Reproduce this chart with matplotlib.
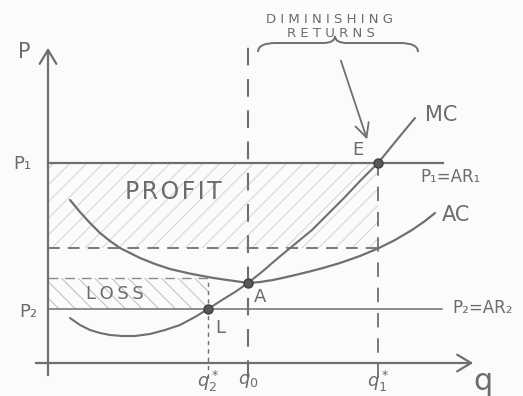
import numpy as np
import matplotlib.pyplot as plt
from matplotlib.path import Path
from matplotlib.patches import PathPatch


# -----------------------------
# DATA
# -----------------------------

# key quantities / prices
q2_star = 8.0
q0 = 10.0
q1_star = 16.5
P1 = 10.0
P2 = 2.7
AC_at_q1 = 5.75
AC_at_q2 = 4.25
A_point = (10.0, 4.0)

# marginal cost curve
mc_q = [1.1, 1.6, 2.1, 2.6, 3.1, 3.7, 4.35, 5.1, 5.85, 6.6, 7.35, 8.0, 8.75, 9.4, 10.0,
        10.75, 11.5, 12.35, 13.2, 14.0, 14.85, 15.6, 16.5, 16.95, 17.4, 17.85, 18.35]
mc_p = [2.25, 1.9, 1.65, 1.5, 1.4, 1.35, 1.35, 1.45, 1.65, 1.9, 2.3, 2.7, 3.18, 3.58, 4.0,
        4.6, 5.25, 5.95, 6.65, 7.45, 8.3, 9.1, 10.0, 10.55, 11.1, 11.65, 12.25]

# average cost curve
ac_q = [1.1, 1.6, 2.1, 2.6, 3.1, 3.6, 4.1, 4.6, 5.35, 6.1, 7.1, 8.1, 8.75, 9.4, 10.0,
        10.6, 11.25, 11.85, 12.45, 13.1, 13.75, 14.6, 15.6, 16.55, 17.35, 18.2, 18.85, 19.35]
ac_p = [8.15, 7.55, 7.0, 6.5, 6.1, 5.75, 5.5, 5.25, 4.95, 4.7, 4.47, 4.28, 4.18, 4.09, 4.0,
        4.05, 4.15, 4.28, 4.42, 4.58, 4.75, 5.0, 5.35, 5.75, 6.15, 6.65, 7.1, 7.5]

q_tick_labels = [r"$q_2^*$", r"$q_0$", r"$q_1^*$"]


# -----------------------------
# STYLE
# -----------------------------

PENCIL = "#6f6f6f"
TEXT = "#6c6c6c"
plt.rcParams['font.family'] = ['DejaVu Sans']
plt.rcParams['mathtext.fontset'] = 'dejavusans'
plt.rcParams['hatch.linewidth'] = 0.7

fig = plt.figure(figsize=(5.23, 3.96), dpi=100)
fig.patch.set_facecolor("#fbfbfa")
ax = fig.add_axes([0, 0, 1, 1])
ax.set_xlim(-2.4, 23.75)
ax.set_ylim(-1.65, 18.15)
ax.axis("off")


def spaced(word):
    # hand lettering is wide apart
    return " ".join(word)


# -----------------------------
# SHADED AREAS
# -----------------------------

ax.fill_between([0, q1_star], AC_at_q1, P1, facecolor="none",
                edgecolor="#d2d2d2", hatch="//", linewidth=0)
ax.fill_between([0, q2_star], P2, AC_at_q2, facecolor="none",
                edgecolor="#bcbcbc", hatch="\\\\", linewidth=0)


# -----------------------------
# AXES (hand drawn)
# -----------------------------

ax.annotate("", xy=(0, 15.9), xytext=(0, -0.75),
            arrowprops=dict(arrowstyle="->, head_length=0.5, head_width=0.3",
                            color=PENCIL, lw=1.6, mutation_scale=20))
ax.annotate("", xy=(21.4, 0), xytext=(-0.75, 0),
            arrowprops=dict(arrowstyle="->, head_length=0.5, head_width=0.3",
                            color=PENCIL, lw=1.6, mutation_scale=20))

# price lines
ax.plot([0, 19.75], [P1, P1], color=PENCIL, lw=1.6)
ax.plot([0, 19.7], [P2, P2], color=PENCIL, lw=1.1)

# dashed guides
ax.plot([q0, q0], [-0.75, 16.25], color=PENCIL, lw=1.5, dashes=(8.5, 6.5))
ax.plot([q1_star, q1_star], [-0.75, P1], color=PENCIL, lw=1.3, dashes=(8, 6))
ax.plot([q2_star, q2_star], [-0.75, AC_at_q2], color=PENCIL, lw=1.0, dashes=(3, 3))
ax.plot([0, q1_star], [AC_at_q1, AC_at_q1], color=PENCIL, lw=1.3, dashes=(6.5, 4.5))
ax.plot([0, q2_star], [AC_at_q2, AC_at_q2], color="#8a8a8a", lw=1.0, dashes=(7, 5))

# cost curves
ax.plot(mc_q, mc_p, color=PENCIL, lw=1.5, solid_capstyle="round", solid_joinstyle="round")
ax.plot(ac_q, ac_p, color=PENCIL, lw=1.6, solid_capstyle="round", solid_joinstyle="round")

# points E, A, L
ax.plot([q1_star, A_point[0], q2_star], [P1, A_point[1], P2], "o",
        color="#585858", markeredgecolor="#3f3f3f", markersize=6.5)


# -----------------------------
# BRACE + ARROW (diminishing returns)
# -----------------------------

bl, br, by, bt = 10.5, 18.5, 16.0, 16.35
bc = (bl + br) / 2 - 0.15
verts = [(bl, by - 0.45), (bl, by), (bl + 0.9, by), (bc - 0.6, by), (bc, by), (bc, bt),
         (bc, by), (bc + 0.6, by), (br - 0.9, by), (br, by), (br, by - 0.45)]
codes = [Path.MOVETO, Path.CURVE3, Path.CURVE3, Path.LINETO, Path.CURVE3, Path.CURVE3,
         Path.CURVE3, Path.CURVE3, Path.LINETO, Path.CURVE3, Path.CURVE3]
ax.add_patch(PathPatch(Path(verts, codes), facecolor="none", edgecolor=PENCIL, lw=1.4))

ax.annotate("", xy=(16.0, 11.05), xytext=(14.6, 15.25),
            arrowprops=dict(arrowstyle="->, head_length=0.5, head_width=0.25",
                            color=PENCIL, lw=1.3, mutation_scale=20))


# -----------------------------
# TEXT
# -----------------------------

tkw = dict(color=TEXT, ha="center", va="center")
ax.text(14.1, 17.15, spaced("DIMINISHING"), fontsize=9.5, **tkw)
ax.text(14.15, 16.45, spaced("RETURNS"), fontsize=9.5, **tkw)

ax.text(-1.2, 15.55, "P", fontsize=15, **tkw)
ax.text(-1.3, 9.95, "P₁", fontsize=13, **tkw)
ax.text(-1.0, 2.55, "P₂", fontsize=13, **tkw)

ax.text(18.6, 9.3, "P₁=AR₁", fontsize=12, color=TEXT, ha="left", va="center")
ax.text(20.2, 2.75, "P₂=AR₂", fontsize=12, color=TEXT, ha="left", va="center")
ax.text(18.85, 12.4, "MC", fontsize=15, color=TEXT, ha="left", va="center")
ax.text(19.7, 7.4, "AC", fontsize=15, color=TEXT, ha="left", va="center")

ax.text(15.5, 10.65, "E", fontsize=13, **tkw)
ax.text(10.6, 3.3, "A", fontsize=13, **tkw)
ax.text(8.6, 1.75, "L", fontsize=13, **tkw)

ax.text(6.25, 8.55, "P\u200aR\u200aO\u200aF\u200aI\u200aT", fontsize=17, **tkw)
ax.text(3.35, 3.45, "L\u2009O\u2009S\u2009S", fontsize=13, **tkw)

for q, lab in zip([q2_star, q0, q1_star], q_tick_labels):
    ax.text(q, -0.9, lab, fontsize=13, **tkw)
ax.text(21.75, -0.95, "q", fontsize=22, **tkw)

fig.savefig("out.png", dpi=100, facecolor=fig.get_facecolor())
